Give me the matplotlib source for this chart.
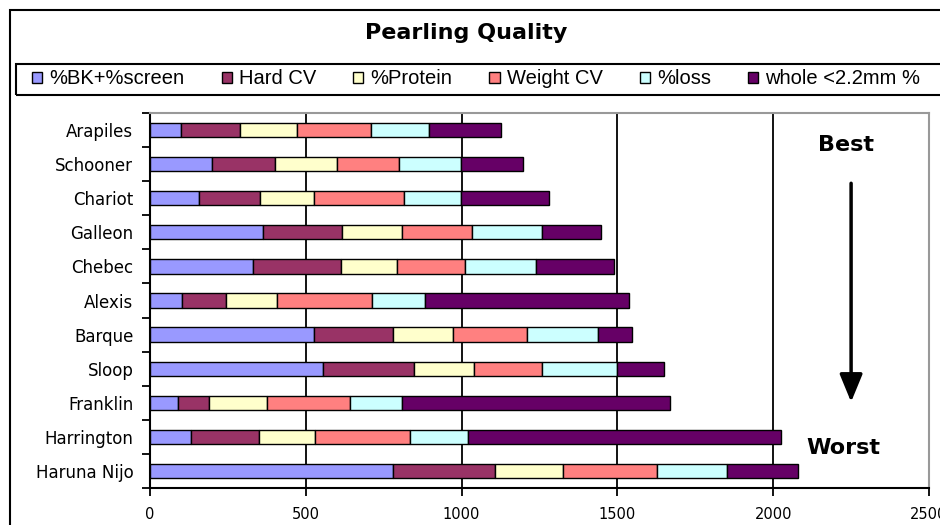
# %%
import numpy as np
import matplotlib.pyplot as plt
from matplotlib.patches import Rectangle

# %%
# data (top to bottom)
varieties = ['Arapiles', 'Schooner', 'Chariot', 'Galleon', 'Chebec', 'Alexis',
             'Barque', 'Sloop', 'Franklin', 'Harrington', 'Haruna Nijo']
bk_screen = [98, 200, 156, 363, 332, 103, 526, 556, 89, 133, 779]
hard_cv = [192, 200, 196, 254, 280, 142, 253, 291, 100, 216, 328]
protein = [183, 199, 173, 193, 180, 161, 194, 193, 187, 182, 218]
weight_cv = [235, 199, 289, 224, 219, 307, 238, 217, 265, 303, 301]
loss = [186, 200, 185, 223, 228, 169, 228, 243, 169, 186, 225]
whole = [231, 199, 283, 189, 250, 654, 109, 151, 859, 1006, 230]

series = ['%BK+%screen', 'Hard CV', '%Protein', 'Weight CV', '%loss', 'whole <2.2mm %']
colors = ['#9999FF', '#993366', '#FFFFCC', '#FF8080', '#CCFFFF', '#660066']
x_ticks = [0, 500, 1000, 1500, 2000, 2500]

# %%
fig = plt.figure(figsize=(9.4, 5.25), dpi=100)
ax = fig.add_axes([150 / 940, 37 / 525, 779 / 940, 375 / 525])

y = np.arange(len(varieties))
left = np.zeros(len(varieties))
for vals, name, c in zip([bk_screen, hard_cv, protein, weight_cv, loss, whole], series, colors):
    ax.barh(y, vals, left=left, height=0.42, color=c, edgecolor='black',
            linewidth=1, label=name, zorder=3)
    left += np.array(vals)

ax.set_ylim(len(varieties) - 0.5, -0.5)
ax.set_xlim(0, 2500)
ax.set_xticks(x_ticks)
ax.set_xticklabels([str(t) for t in x_ticks], fontsize=10.5)
ax.set_yticks(y)
ax.set_yticklabels(varieties, fontsize=12)
ax.set_yticks(np.arange(-0.5, len(varieties)), minor=True)
ax.tick_params(axis='y', which='major', length=0, pad=12)
ax.tick_params(axis='y', which='minor', length=6, width=1.3, direction='out')
ax.tick_params(axis='x', length=6, width=1.3, direction='out', pad=8)

ax.grid(axis='x', color='black', linewidth=1.3, zorder=0)
ax.spines['left'].set_linewidth(1.5)
ax.spines['bottom'].set_linewidth(1.5)
ax.spines['top'].set_color('#999999')
ax.spines['right'].set_color('#999999')
ax.spines['top'].set_linewidth(1.5)
ax.spines['right'].set_linewidth(1.5)

# best / worst arrow
ax.annotate('', xy=(0.9, 0.222), xytext=(0.9, 0.82), xycoords='axes fraction',
            arrowprops=dict(arrowstyle='-|>,head_width=0.7,head_length=1.7',
                            color='black', lw=2.5))
ax.text(0.893, 0.915, 'Best', transform=ax.transAxes, ha='center', va='center',
        fontsize=16, fontweight='bold')
ax.text(0.89, 0.107, 'Worst', transform=ax.transAxes, ha='center', va='center',
        fontsize=16, fontweight='bold')

# title
fig.text(466 / 940, 1 - 33 / 525, 'Pearling Quality', ha='center', va='center',
         fontsize=16, fontweight='bold')

# chart frame and legend box
fig.patches.append(Rectangle((10 / 940, -0.1), 1.0, 1 - 10 / 525 + 0.1,
                             transform=fig.transFigure, fill=False,
                             edgecolor='black', linewidth=1.5))
leg = fig.legend(loc='center left', bbox_to_anchor=(24 / 940, 1 - 79 / 525), ncol=6,
                 frameon=False, handlelength=0.5, handleheight=0.5,
                 handletextpad=0.35, columnspacing=1.85, borderaxespad=0,
                 prop={'family': 'Liberation Sans', 'size': 14.5})
fig.patches.append(Rectangle((16 / 940, 1 - 95 / 525), 1.0, 31 / 525,
                             transform=fig.transFigure, fill=False,
                             edgecolor='black', linewidth=1.5))

plt.savefig('out.png', facecolor='white')
plt.close()
